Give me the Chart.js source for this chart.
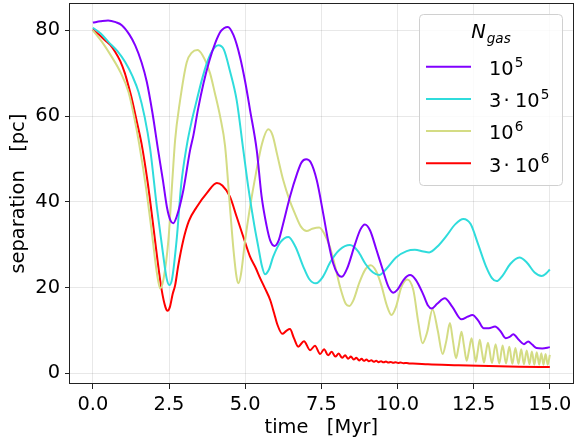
<!DOCTYPE html>
<html><head><meta charset="utf-8">
<script src="https://cdn.jsdelivr.net/npm/chart.js@4"></script>
<style>html,body{margin:0;padding:0;background:#fff;}canvas{display:block;}</style>
</head><body>
<canvas id="c" width="575" height="443"></canvas>
<script>
// ---- data ----
const xTicks = [0, 2.5, 5, 7.5, 10, 12.5, 15];
const yTicks = [0, 20, 40, 60, 80];
const legendTitle = ['N', 'gas'];
const seriesPre = ['', '3', '', '3'];
const seriesBase = ['10', '10', '10', '10'];
const seriesExp = ['5', '5', '6', '6'];
const seriesColors = ['#8000ff', '#2fdcdc', '#d4dc84', '#ff0000'];

// N_gas = 1e5
const tA = [0,0.25,0.5,0.75,0.95,1.2,1.39,1.6,1.77,1.95,2.15,2.3,2.43,2.55,2.64,2.75,2.97,3.19,3.3,3.45,3.63,3.82,4.01,4.2,4.43,4.62,4.83,5.0,5.16,5.38,5.54,5.7,5.82,5.96,6.1,6.25,6.47,6.7,6.85,7.0,7.15,7.35,7.56,7.72,7.89,8.05,8.17,8.35,8.6,8.78,8.93,9.1,9.3,9.5,9.7,9.86,10.0,10.2,10.41,10.6,10.85,11.0,11.12,11.3,11.55,11.8,12.1,12.3,12.46,12.65,12.83,13.0,13.2,13.38,13.55,13.68,13.8,13.98,14.15,14.29,14.42,14.56,14.75,15.0];
const vA = [81.8,82.1,82.3,81.9,81.2,79.0,76.5,72.5,68,61,51.7,45,38.8,35.6,35.0,36.5,42.7,52,55.5,61.5,67.6,72.8,76.9,79.8,80.8,78.8,73.8,68,61.4,52,41.2,34.5,31,29.7,31,35,41.2,46.5,49.2,49.9,49.2,45,37.3,31,25.6,23.0,22.5,24.5,30,33.5,34.7,33.3,29,24.5,20.2,18.8,19.5,21.8,22.9,21.8,18.3,15.8,15.1,16.2,17.5,15.5,12.6,13.2,13.6,12.3,10.5,10.5,10.9,9.8,8.2,8.5,9.1,7.8,6.8,7.4,6.7,5.9,5.8,6.1];

// N_gas = 3e5
const tB = [0,0.25,0.51,0.8,1.06,1.3,1.5,1.7,1.88,2.1,2.3,2.42,2.51,2.6,2.75,2.9,3.08,3.25,3.41,3.58,3.74,3.92,4.12,4.3,4.5,4.72,4.94,5.1,5.3,5.43,5.55,5.65,5.78,5.92,6.15,6.42,6.65,6.9,7.1,7.32,7.55,7.8,8.1,8.44,8.7,8.95,9.2,9.4,9.65,9.95,10.3,10.57,10.85,11.04,11.3,11.6,11.9,12.16,12.4,12.65,12.9,13.1,13.25,13.45,13.7,14.0,14.25,14.5,14.73,14.88,15.0];
const vB = [80.6,79.3,77.3,75.2,72.6,69.3,65.6,59.8,52.4,38.8,28,22.2,20.6,22,31.1,44,53,59,63.7,68.5,72.3,75.2,76.5,75.5,70.5,63.7,52,43.5,34.5,29.5,25,23.1,24.2,27.2,30.5,31.8,29.5,25,22,21.0,22.5,26,28.8,29.9,28.5,25.5,23.5,22.9,24.5,27,28.5,28.8,28.4,28.2,29.5,32,34.8,36.0,34.8,30,25,22.2,21.5,22.8,25.5,27.0,25.8,23.5,22.7,23.3,24.2];

// N_gas = 1e6
const tC = [0,0.3,0.62,0.9,1.17,1.35,1.52,1.75,1.95,2.1,2.21,2.32,2.48,2.6,2.7,2.85,3.08,3.25,3.43,3.6,3.85,4.0,4.18,4.34,4.5,4.62,4.72,4.78,4.86,5.0,5.16,5.35,5.55,5.76,5.9,6.05,6.25,6.45,6.63,6.83,7.02,7.2,7.43,7.6,7.78,7.95,8.12,8.3,8.42,8.55,8.75,8.95,9.12,9.3,9.47,9.65,9.8,9.95,10.12,10.32,10.52,10.68,10.82,10.97,11.15,11.32,11.48,11.6,11.72,11.82,11.92,12.0,12.1,12.18,12.27,12.35,12.43,12.5,12.57,12.63,12.7,12.77,12.84,12.9,12.97,13.1,13.22,13.34,13.45,13.56,13.67,13.77,13.87,13.97,14.06,14.15,14.24,14.33,14.41,14.49,14.57,14.65,14.72,14.79,14.86,14.93,15.0];
const vC = [80.0,77.3,73.8,70.3,65.6,60,53.5,43,32,23.5,19.8,22,31.1,44,54.4,63,72.5,74.8,75.4,74.2,69.9,65.5,59.8,53,38.8,28.5,22.3,21.0,23,31.1,38.8,46.5,53.5,56.9,55.5,51,45,40.5,37.3,34.2,33.2,33.7,34.0,32.5,29.5,25,20,16.2,15.7,17,21.2,24.3,25.2,23.8,20.5,15.8,13.6,15.5,20,21.9,19.4,12,7.0,9.5,14.9,10,4.5,7.5,11.7,7.5,3.5,6,9.7,6.5,2.9,5.5,8.2,5.5,2.7,5,7.8,5,2.5,4.8,7.1,2.4,6.8,2.3,6.5,2.3,6.2,2.2,5.9,2.2,5.6,2.1,5.3,2.1,5.1,2.0,4.9,2.0,4.7,2.0,4.5,2.0,4.3];

// N_gas = 3e6
const tD = [0,0.2,0.4,0.57,0.73,0.9,1.05,1.17,1.28,1.45,1.6,1.8,1.99,2.12,2.26,2.38,2.45,2.53,2.62,2.7,2.8,2.97,3.15,3.41,3.74,4.07,4.25,4.5,4.72,4.94,5.16,5.35,5.49,5.65,5.82,5.95,6.05,6.22,6.35,6.47,6.6,6.74,6.93,7.13,7.29,7.46,7.59,7.72,7.84,7.96,8.07,8.18,8.28,8.38,8.47,8.56,8.65,8.74,8.82,8.9,8.98,9.06,9.14,9.22,9.3,9.38,9.46,9.54,9.62,9.7,9.78,9.86,9.94,10.02,10.1,10.2,10.3,10.4,10.5,11.0,12.0,13.0,14.0,15.0];
const vD = [80.2,79,77.7,76.6,75,72.8,70,67,64,58.5,53.5,44.5,34,26.5,19.4,15.5,14.6,15.5,18.5,20.5,25,31.1,35.5,38.8,42,44.4,43.8,41.2,36.5,31.8,27.2,24.5,22.2,19.8,17.1,14,11.5,9.2,9.9,10.3,8.2,6.2,7.5,5.4,6.4,4.5,5.6,4.2,5.0,3.9,4.6,3.6,4.2,3.4,3.9,3.2,3.6,3.0,3.4,2.9,3.2,2.8,3.05,2.7,2.9,2.6,2.8,2.55,2.72,2.5,2.65,2.45,2.58,2.4,2.5,2.35,2.42,2.3,2.3,2.1,1.9,1.7,1.55,1.45];

const times = [tA, tB, tC, tD];
const values = [vA, vB, vC, vD];

// ---- chart ----
const FONT = '"DejaVu Sans", sans-serif';
const FS = 19.4;

function pts(t, v) { return t.map((x, i) => ({ x: x, y: v[i] })); }

const boxPlugin = {
  id: 'boxPlugin',
  afterDatasetsDraw(chart) {
    const ctx = chart.ctx, a = chart.chartArea;
    ctx.save();
    ctx.strokeStyle = '#222';
    ctx.lineWidth = 1;
    ctx.strokeRect(Math.round(a.left) - 0.5, Math.round(a.top) + 0.5, Math.round(a.right) - Math.round(a.left) + 1, Math.round(a.bottom) - Math.round(a.top) - 1);
    ctx.restore();
  },
  afterDraw(chart) {
    const ctx = chart.ctx;
    ctx.save();
    const bx = 419.5, by = 14.5, bw = 143, bh = 171;
    ctx.beginPath();
    ctx.roundRect(bx, by, bw, bh, 4);
    ctx.fillStyle = 'rgba(255,255,255,0.8)';
    ctx.fill();
    ctx.strokeStyle = '#d0d0d0';
    ctx.lineWidth = 1;
    ctx.stroke();
    ctx.fillStyle = '#000';
    ctx.textBaseline = 'alphabetic';
    ctx.textAlign = 'left';
    // title
    ctx.font = 'italic ' + FS + 'px ' + FONT;
    const wN = ctx.measureText(legendTitle[0]).width;
    ctx.font = 'italic ' + (FS * 0.7) + 'px ' + FONT;
    const wS = ctx.measureText(legendTitle[1]).width;
    const cx = bx + bw / 2;
    const x0 = cx - (wN + wS + 1) / 2;
    ctx.font = 'italic ' + FS + 'px ' + FONT;
    ctx.fillText(legendTitle[0], x0, 37.7);
    ctx.font = 'italic ' + (FS * 0.7) + 'px ' + FONT;
    ctx.fillText(legendTitle[1], x0 + wN + 1, 42.5);
    // entries
    const ys = [66.7, 99, 131, 163.3];
    chart.data.datasets.forEach((ds, i) => {
      const y = ys[i];
      ctx.strokeStyle = ds.borderColor;
      ctx.lineWidth = 2;
      ctx.beginPath();
      ctx.moveTo(426, y);
      ctx.lineTo(471, y);
      ctx.stroke();
      ctx.fillStyle = '#000';
      ctx.font = FS + 'px ' + FONT;
      let x = 489;
      if (seriesPre[i]) {
        ctx.fillText(seriesPre[i], x, y + 8.3);
        const wd = ctx.measureText('·').width;
        ctx.fillText('·', 506.7 - wd / 2, y + 8.3);
        x = 515;
      }
      ctx.fillText(seriesBase[i], x, y + 8.3);
      x += ctx.measureText(seriesBase[i]).width + 1;
      ctx.font = (FS * 0.7) + 'px ' + FONT;
      ctx.fillText(seriesExp[i], x, y);
    });
    ctx.restore();
  }
};

new Chart(document.getElementById('c'), {
  type: 'line',
  data: {
    datasets: values.map((v, i) => ({
      label: seriesPre[i] + seriesBase[i] + '^' + seriesExp[i],
      data: pts(times[i], v),
      borderColor: seriesColors[i],
      borderWidth: 2,
      pointRadius: 0,
      fill: false,
      tension: 0.4,
      cubicInterpolationMode: 'monotone'
    }))
  },
  plugins: [boxPlugin],
  options: {
    responsive: false,
    animation: false,
    devicePixelRatio: 1,
    layout: { padding: { left: 0, right: 2.3, top: 3.3, bottom: 0 } },
    plugins: { legend: { display: false }, tooltip: { enabled: false } },
    scales: {
      x: {
        type: 'linear', min: -0.75, max: 15.75,
        afterBuildTicks: s => { s.ticks = xTicks.map(v => ({ value: v })); },
        afterFit: s => { s.height = 59; s.paddingLeft = 0; s.paddingRight = 0; },
        ticks: { callback: v => Number(v).toFixed(1), font: { family: FONT, size: FS }, color: '#000', padding: 4, maxRotation: 0 },
        grid: { color: 'rgba(0,0,0,0.09)', tickColor: '#222', tickLength: 5, lineWidth: 1 },
        border: { display: false },
        title: { display: true, text: 'time   [Myr]', font: { family: FONT, size: FS }, color: '#000', padding: { top: 0, bottom: 3 } }
      },
      y: {
        type: 'linear', min: -2.5, max: 86.3,
        afterBuildTicks: s => { s.ticks = yTicks.map(v => ({ value: v })); },
        afterFit: s => { s.width = 70; s.paddingTop = 0; s.paddingBottom = 0; },
        ticks: { font: { family: FONT, size: FS }, color: '#000', padding: 5 },
        grid: { color: 'rgba(0,0,0,0.09)', tickColor: '#222', tickLength: 5, lineWidth: 1 },
        border: { display: false },
        title: { display: true, text: 'separation   [pc]', font: { family: FONT, size: FS }, color: '#000', padding: { top: 7, bottom: 0 } }
      }
    }
  }
});
</script>
</body></html>
